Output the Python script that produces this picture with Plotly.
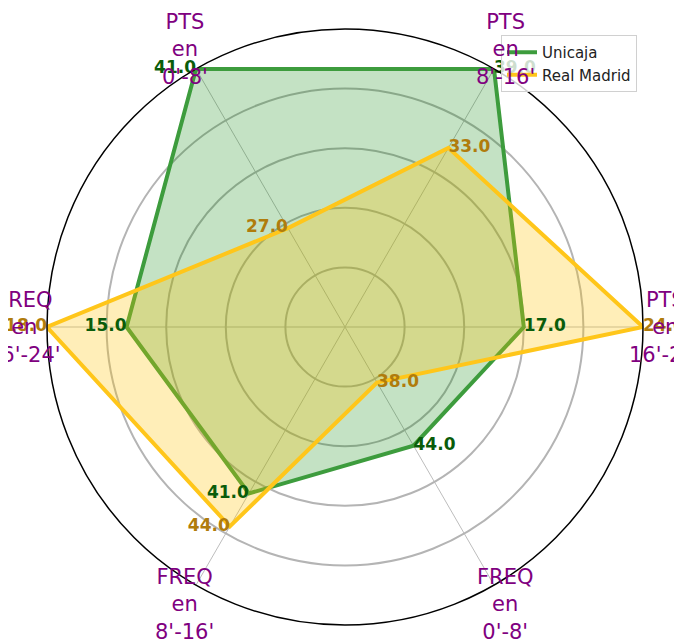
import math
import plotly.graph_objects as go

categories = ["PTS en 0'-8'", "PTS en 8'-16'", "PTS en 16'-24'",
              "FREQ en 0'-8'", "FREQ en 8'-16'", "FREQ en 16'-24'"]
axis_labels = ["PTS<br>en<br>0'-8'", "PTS<br>en<br>8'-16'", "PTS<br>en<br>16'-24'",
               "FREQ<br>en<br>0'-8'", "FREQ<br>en<br>8'-16'", "FREQ<br>en<br>16'-24'"]

teams = ["Unicaja", "Real Madrid"]
# raw values (shown as labels)
unicaja_values = [41.0, 39.0, 17.0, 44.0, 41.0, 15.0]
madrid_values = [27.0, 33.0, 24.0, 38.0, 44.0, 18.0]
# normalised radii as plotted
unicaja_scaled = [1.0, 1.0, 0.60, 0.46, 0.645, 0.733]
madrid_scaled = [0.383, 0.694, 1.0, 0.215, 0.773, 1.0]

line_colors = ["#3d9c3d", "#ffc61a"]
fill_colors = ["rgba(0,128,0,0.23)", "rgba(255,195,0,0.28)"]
text_colors = ["#0a5c0a", "#b07c0c"]
label_positions = ["middle left", "middle right", "middle right",
                   "middle right", "middle left", "middle left"]

W, H = 682, 643
dom_x = [39 / W, 635 / W]
dom_y = [1 - 617 / H, 1 - 21 / H]
rotation = 120
label_r = 1.077

fig = go.Figure()

for name, vals, scaled, lc, fc, tc in zip(
        teams, [unicaja_values, madrid_values], [unicaja_scaled, madrid_scaled],
        line_colors, fill_colors, text_colors):
    th = categories + [categories[0]]
    rr = scaled + [scaled[0]]
    fig.add_trace(go.Scatterpolar(r=rr, theta=th, mode="none", fill="toself",
                                  fillcolor=fc, showlegend=False, hoverinfo="skip"))
    fig.add_trace(go.Scatterpolar(r=rr, theta=th, mode="lines", name=name,
                                  line=dict(color=lc, width=4), cliponaxis=False))

for vals, scaled, tc in zip([unicaja_values, madrid_values],
                            [unicaja_scaled, madrid_scaled], text_colors):
    fig.add_trace(go.Scatterpolar(
        r=scaled, theta=categories, mode="text",
        text=[f"{v:.1f}" for v in vals], textposition=label_positions,
        textfont=dict(family="DejaVu Sans", size=17, color=tc, weight="bold"),
        showlegend=False, cliponaxis=False, hoverinfo="skip"))

# category labels placed just outside the polar frame
cx = (dom_x[0] + dom_x[1]) / 2
cy = (dom_y[0] + dom_y[1]) / 2
rx = (dom_x[1] - dom_x[0]) / 2
ry = (dom_y[1] - dom_y[0]) / 2
n = len(categories)
for i, lab in enumerate(axis_labels):
    ang = math.radians(rotation - 360 * i / n)
    fig.add_annotation(
        x=cx + label_r * rx * math.cos(ang), y=cy + label_r * ry * math.sin(ang),
        xref="paper", yref="paper", text=lab, showarrow=False,
        xanchor="center", yanchor="middle",
        font=dict(family="DejaVu Sans", size=21, color="#800080"))

fig.update_layout(
    width=W, height=H,
    margin=dict(l=0, r=0, t=0, b=0),
    paper_bgcolor="white",
    font=dict(family="DejaVu Sans"),
    polar=dict(
        domain=dict(x=dom_x, y=dom_y),
        bgcolor="white",
        radialaxis=dict(range=[0, 1], tickvals=[0.2, 0.4, 0.6, 0.8],
                        showticklabels=False, ticks="", showline=False,
                        gridcolor="#b4b4b4", gridwidth=1.5),
        angularaxis=dict(rotation=rotation, direction="clockwise",
                         showticklabels=False, ticks="",
                         gridcolor="#bdbdbd", gridwidth=1.2,
                         linecolor="black", linewidth=1.5),
    ),
    legend=dict(x=629 / W, xanchor="right", y=1 - 27 / H, yanchor="top",
                bgcolor="rgba(255,255,255,0.8)", bordercolor="#d0d0d0",
                borderwidth=1, tracegroupgap=0,
                font=dict(family="DejaVu Sans", size=15, color="#222")),
)

fig.write_html("out.html")
